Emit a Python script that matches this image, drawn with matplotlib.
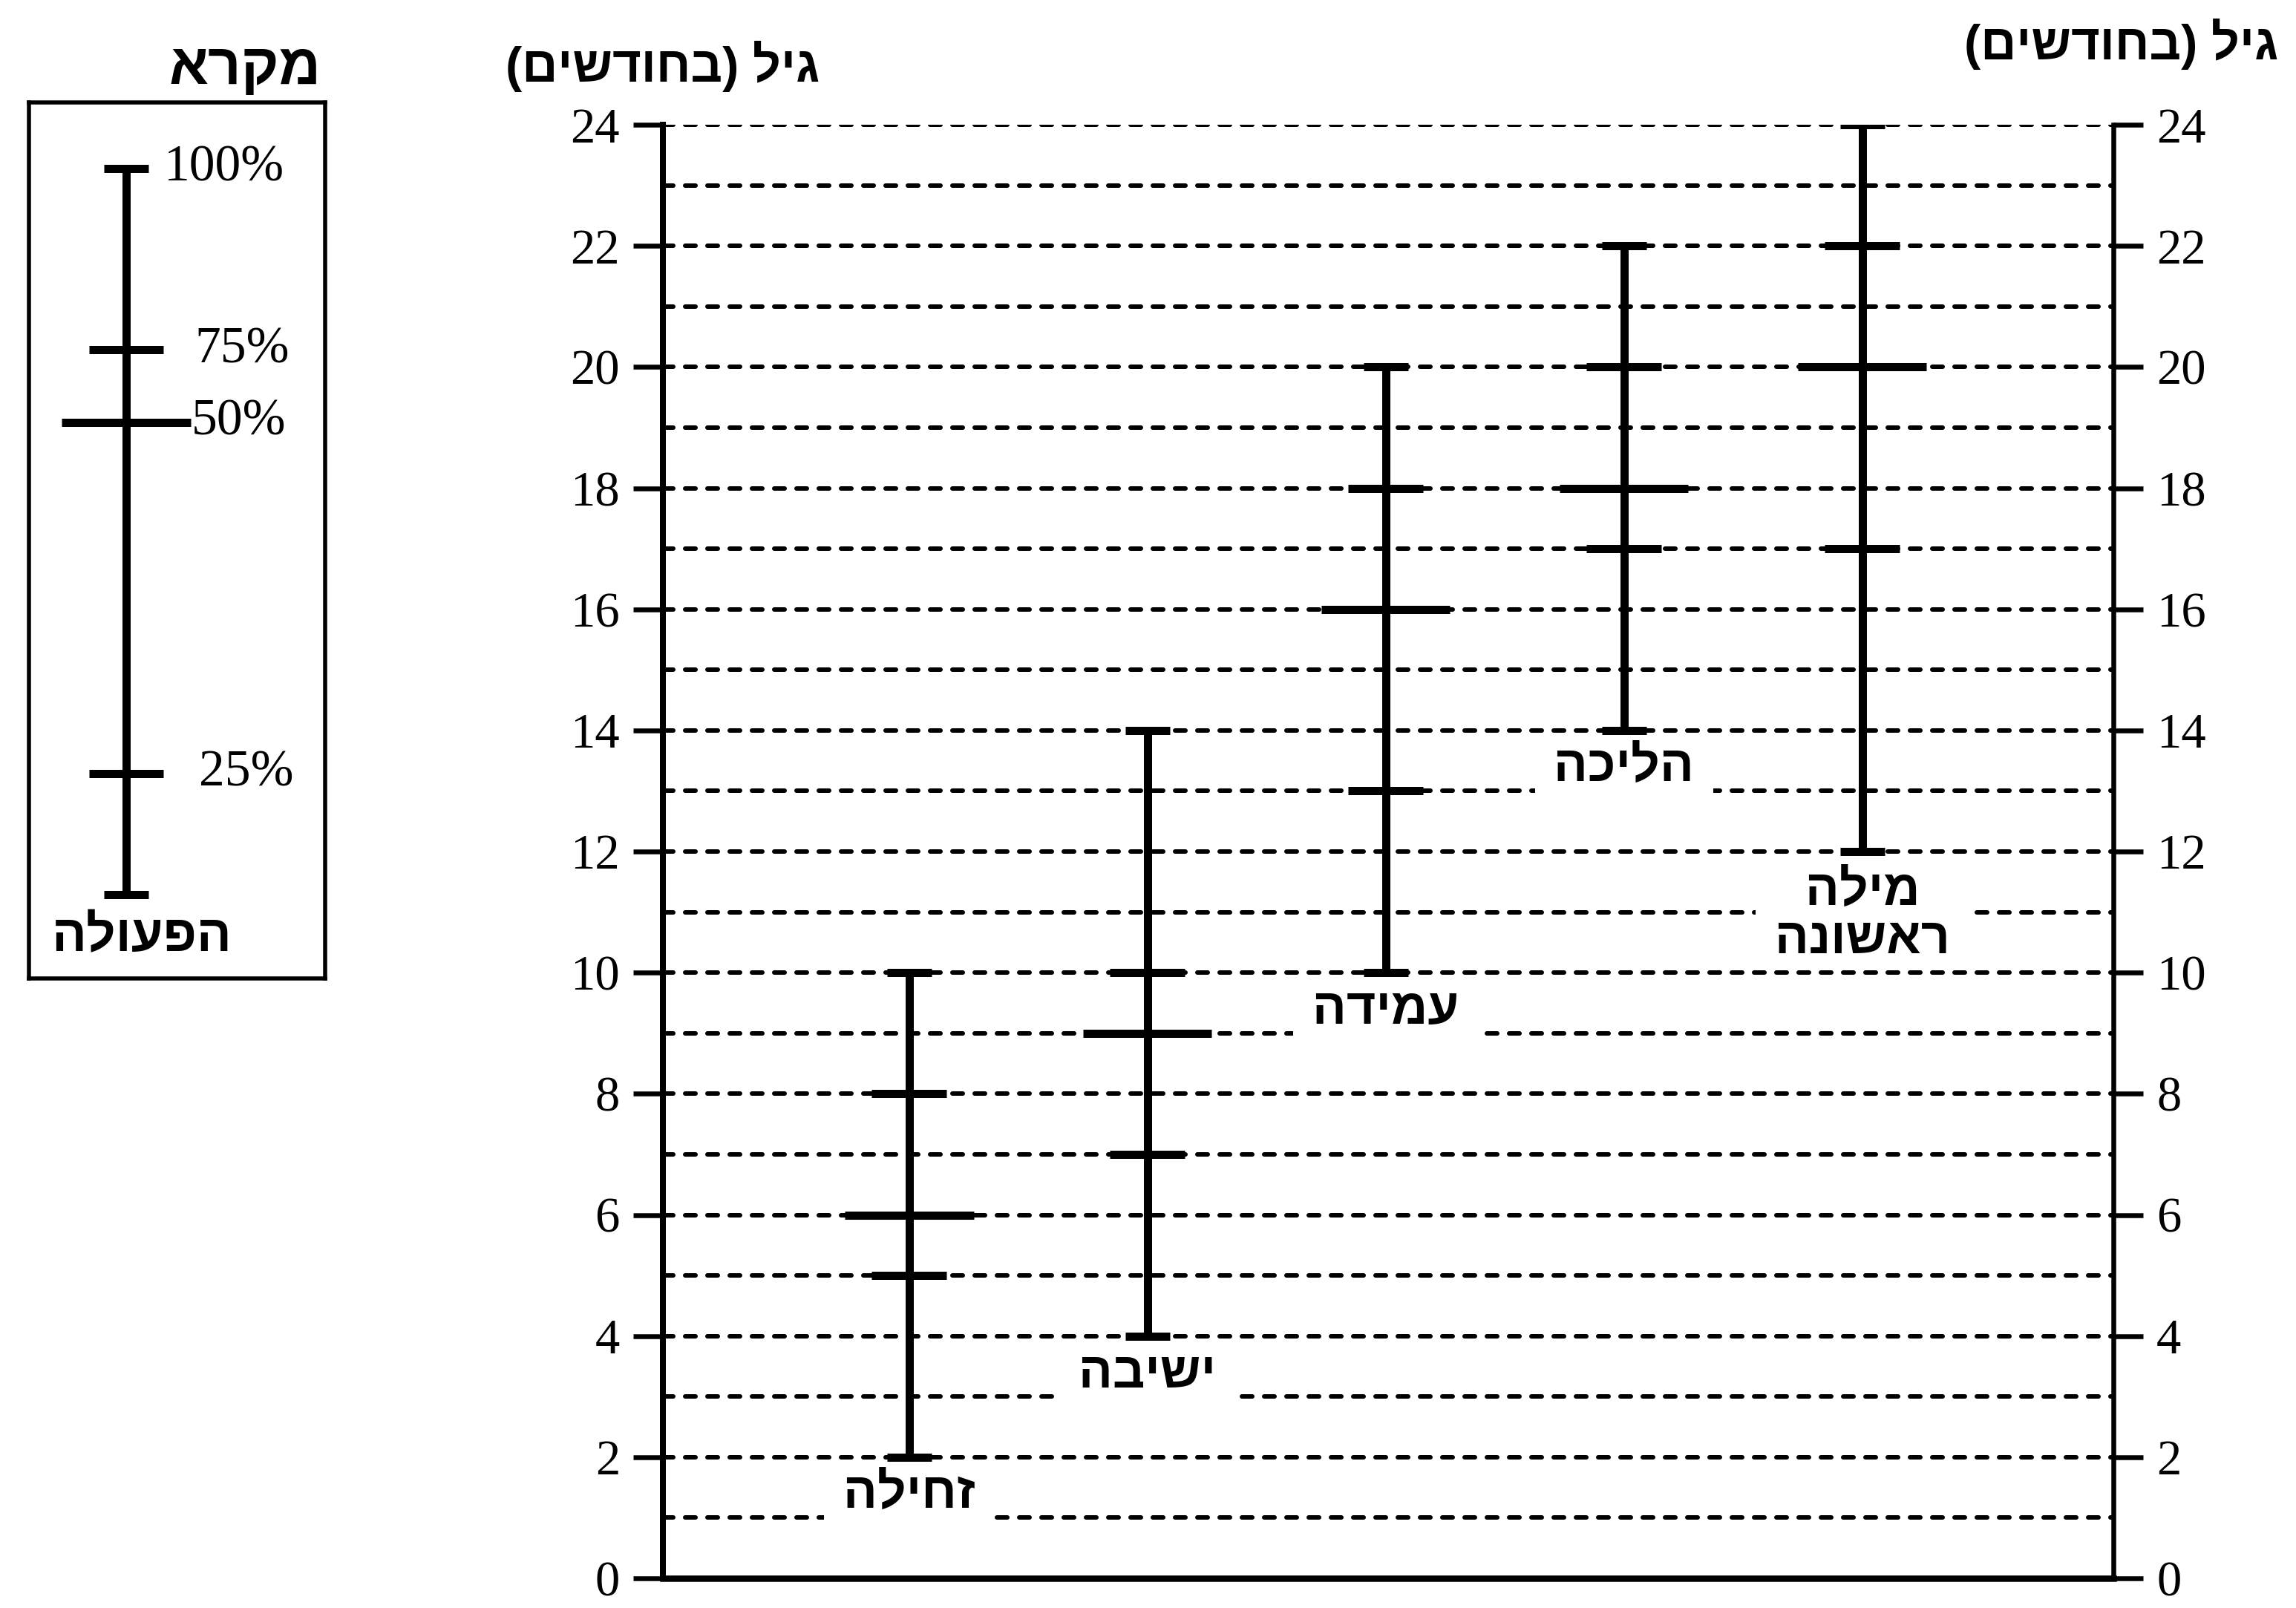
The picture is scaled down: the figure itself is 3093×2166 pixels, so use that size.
import matplotlib
matplotlib.use("Agg")
import matplotlib.pyplot as plt

plt.rcParams['lines.scale_dashes'] = False

# ---------------- data ----------------
categories = ['זחילה', 'ישיבה', 'עמידה', 'הליכה', 'מילה\nראשונה']
p0 = [2, 4, 10, 14, 12]        # 0%  (earliest)
p25 = [5, 7, 13, 17, 17]       # 25%
p50 = [6, 9, 16, 18, 20]       # 50%
p75 = [8, 10, 18, 20, 22]      # 75%
p100 = [10, 14, 20, 22, 24]    # 100%

y_ticks = [0, 2, 4, 6, 8, 10, 12, 14, 16, 18, 20, 22, 24]
axis_title = 'גיל (בחודשים)'
legend_title = 'מקרא'
legend_caption = 'הפעולה'
legend_pct = ['100%', '75%', '50%', '25%']
legend_example = [0, 2, 7.8, 9, 12]   # schematic example: 0%,25%,50%,75%,100%

# ---------------- helpers ----------------
W, H, DPI = 3093, 2166, 100
PX = 72.0 / DPI  # points per pixel
HEB = ['Liberation Sans', 'DejaVu Sans']
SERIF = ['Liberation Serif', 'DejaVu Serif']


def visual(s, margin=''):
    """logical Hebrew -> visual (left-to-right drawing) order"""
    mirror = {'(': ')', ')': '('}
    return '\n'.join(margin + ''.join(mirror.get(c, c) for c in reversed(line)) + margin
                     for line in s.split('\n'))


def fx(px):
    return px / W


def fy(py):
    return 1 - py / H


fig = plt.figure(figsize=(W / DPI, H / DPI), dpi=DPI)
fig.patch.set_facecolor('white')

# ---------------- main axes ----------------
Y0, Y24 = 2126, 168
ax = fig.add_axes([fx(893), fy(Y0), fx(2847) - fx(893), fy(Y24) - fy(Y0)])
ax.set_xlim(-0.034, 6.054)
ax.set_ylim(0, 24)
x = list(range(1, len(categories) + 1))

ax.spines['top'].set_visible(False)
ax.spines['left'].set_linewidth(8 * PX)
ax.spines['right'].set_linewidth(6.5 * PX)
ax.spines['bottom'].set_linewidth(8.5 * PX)
ax.spines['bottom'].set_capstyle('projecting')

ax.set_xticks([])
ax.set_yticks(y_ticks)
ax.set_yticks(range(1, 25, 2), minor=True)
ax.tick_params(axis='y', which='major', direction='out', length=40 * PX,
               width=6.5 * PX, left=True, right=True, labelleft=True,
               labelright=True, labelsize=48, pad=18 * PX)
ax.tick_params(axis='y', which='minor', length=0)
for lab in ax.get_yticklabels():
    lab.set_fontfamily(SERIF)

ax.set_axisbelow(True)
ax.grid(axis='y', which='both', color='black', linewidth=6 * PX,
        linestyle=(0, (14 * PX, 16 * PX)), dash_capstyle='round')

LW = 11 * PX
CAP = 0.093
QW = 0.157
MW = 0.27
ax.vlines(x, p0, p100, color='black', linewidth=LW, zorder=5)
ax.hlines(p100, [v - CAP for v in x], [v + CAP for v in x], color='black', linewidth=LW, zorder=5)
ax.hlines(p0, [v - CAP for v in x], [v + CAP for v in x], color='black', linewidth=LW, zorder=5)
ax.hlines(p75, [v - QW for v in x], [v + QW for v in x], color='black', linewidth=LW, zorder=5)
ax.hlines(p25, [v - QW for v in x], [v + QW for v in x], color='black', linewidth=LW, zorder=5)
ax.hlines(p50, [v - MW for v in x], [v + MW for v in x], color='black', linewidth=LW, zorder=5)

for xi, lo, name in zip(x, p0, categories):
    nl = name.count('\n')
    ax.annotate(visual(name, margin=' '), xy=(xi, lo), xytext=(0, (-51 - 35.5 * nl) * PX),
                textcoords='offset points', ha='center', va='center',
                fontsize=49, fontweight='bold', family=HEB, linespacing=1.0,
                zorder=4,
                bbox=dict(boxstyle='square,pad=0.1', facecolor='white', edgecolor='none'))

# axis titles
fig.text(fx(893), fy(89), visual(axis_title), ha='center', va='center',
         fontsize=48, fontweight='bold', family=HEB)
fig.text(fx(2858), fy(59), visual(axis_title), ha='center', va='center',
         fontsize=48, fontweight='bold', family=HEB)

# ---------------- legend ----------------
lg = fig.add_axes([fx(39), fy(1318), fx(438) - fx(39), fy(138) - fy(1318)])
lg.set_xlim(-0.408, 0.835)
lg.set_ylim(-1.39, 13.09)
lg.set_xticks([])
lg.set_yticks([])
for s in lg.spines.values():
    s.set_linewidth(5.5 * PX)

e0, e25, e50, e75, e100 = legend_example
lg.vlines(0, e0, e100, color='black', linewidth=LW)
lg.hlines([e0, e100], -CAP, CAP, color='black', linewidth=LW)
lg.hlines([e25, e75], -QW, QW, color='black', linewidth=LW)
lg.hlines(e50, -MW, MW, color='black', linewidth=LW)

pct_x = [0.159, 0.287, 0.272, 0.305]
for txt, yv, xo in zip(legend_pct, [e100, e75, e50, e25], pct_x):
    lg.text(xo, yv, txt, ha='left', va='center', fontsize=50, family=SERIF)
lg.text(0.065, -0.72, visual(legend_caption), ha='center', va='center',
        fontsize=50, fontweight='bold', family=HEB)

fig.text(fx(432), fy(93), visual(legend_title), ha='right', va='center',
         fontsize=56, fontweight='bold', family=HEB)

fig.savefig('out.png', dpi=DPI, facecolor='white')
